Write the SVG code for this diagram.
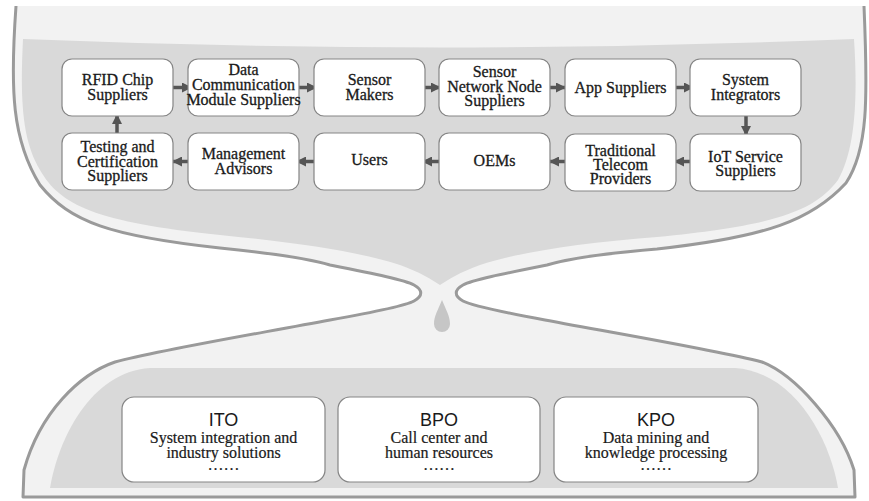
<svg xmlns="http://www.w3.org/2000/svg" width="869" height="501" viewBox="0 0 869 501">
  <style>
    .shell { fill: #f2f2f2; stroke: #9a9a9a; stroke-width: 3; stroke-linejoin: round; }
    .pool { fill: #d9d9d9; }
    .drop { fill: #c6c6c6; }
    .box { fill: #ffffff; stroke: #858585; stroke-width: 1.2; }
    .lbl { font-family: "Liberation Serif", "Times New Roman", serif; font-size: 16px; fill: #1a1a1a; stroke: #1a1a1a; stroke-width: 0.3; text-anchor: middle; }
    .sub { font-family: "Liberation Serif", "Times New Roman", serif; font-size: 16px; fill: #1a1a1a; stroke: #1a1a1a; stroke-width: 0.2; text-anchor: middle; }
    .head { font-family: "Liberation Sans", Arial, sans-serif; font-size: 18px; fill: #1a1a1a; text-anchor: middle; }
    .arrow { stroke: #555555; stroke-width: 3.5; fill: none; marker-end: url(#tip); }
  </style>
  <defs>
    <marker id="tip" viewBox="0 0 10 10" refX="10" refY="5" markerUnits="userSpaceOnUse" markerWidth="11" markerHeight="10" orient="auto">
      <path d="M0,0 L10,5 L0,10 Z" fill="#555555"/>
    </marker>
  </defs>

  <!-- hourglass body: open at the top, so the stroke skips the closing edge -->
  <path class="shell" d="M16,6
    C10,90 12,140 40,185
    C70,222 110,236 220,248
    C280,254 310,259 330,265
    C375,274 405,280 414,285
    C423,290 423,296 414,301
    C405,306 375,312 330,320
    C250,335 160,350 115,362
    C80,374 40,412 24,470
    L23,497 L855,497 L854,470
    C840,425 795,375 762,362
    C715,350 625,335 545,320
    C502,312 472,306 463,301
    C454,296 454,290 463,285
    C472,280 502,274 547,265
    C567,259 597,254 657,249
    C767,237 812,220 846,183
    C868,150 868,100 864,6"/>

  <!-- upper chamber contents -->
  <path class="pool" d="M23,39
    C20,100 22,140 40,170
    C60,205 95,222 220,235
    C300,243 360,252 400,265
    C420,272 432,280 440,285
    C448,280 460,272 480,265
    C520,252 580,243 657,237
    C780,225 815,210 838,180
    C855,150 858,100 854,39
    Q440,56 23,39 Z"/>

  <!-- falling drop -->
  <path class="drop" d="M442,300 C446,310 450,316 450,324 A8,8 0 0 1 434,324 C434,316 438,310 442,300 Z"/>

  <!-- lower chamber contents -->
  <path class="pool" d="M50,488 C58,440 90,372 150,368 L735,368 C795,372 830,440 838,488 Z"/>

  <!-- connectors -->
  <g id="connectors">
    <line class="arrow" x1="173" y1="87.5" x2="192" y2="87.5"/>
    <line class="arrow" x1="295" y1="87.5" x2="317" y2="87.5"/>
    <line class="arrow" x1="424" y1="87.5" x2="441" y2="87.5"/>
    <line class="arrow" x1="543" y1="87.5" x2="566" y2="87.5"/>
    <line class="arrow" x1="672" y1="87.5" x2="694" y2="87.5"/>
    <line class="arrow" x1="746" y1="116" x2="746" y2="136"/>
    <line class="arrow" x1="698" y1="161.5" x2="674" y2="161.5"/>
    <line class="arrow" x1="571" y1="161.5" x2="549" y2="161.5"/>
    <line class="arrow" x1="442" y1="161.5" x2="422" y2="161.5"/>
    <line class="arrow" x1="318" y1="161.5" x2="296" y2="161.5"/>
    <line class="arrow" x1="195" y1="161.5" x2="172" y2="161.5"/>
    <line class="arrow" x1="117" y1="134" x2="117" y2="114"/>
  </g>

  <!-- value chain, top row -->
  <g id="rfid-chip-suppliers">
    <rect class="box" x="62" y="59" width="111" height="57" rx="10"/>
    <text class="lbl" x="117.5" y="85">RFID Chip</text>
    <text class="lbl" x="117.5" y="100">Suppliers</text>
  </g>
  <g id="data-communication-module-suppliers">
    <rect class="box" x="188" y="59" width="111" height="57" rx="10"/>
    <text class="lbl" x="243.5" y="75">Data</text>
    <text class="lbl" x="243.5" y="90">Communication</text>
    <text class="lbl" x="243.5" y="105">Module Suppliers</text>
  </g>
  <g id="sensor-makers">
    <rect class="box" x="314" y="59" width="111" height="57" rx="10"/>
    <text class="lbl" x="369.5" y="85">Sensor</text>
    <text class="lbl" x="369.5" y="100">Makers</text>
  </g>
  <g id="sensor-network-node-suppliers">
    <rect class="box" x="439" y="59" width="111" height="57" rx="10"/>
    <text class="lbl" x="494.5" y="76.5">Sensor</text>
    <text class="lbl" x="494.5" y="91.5">Network Node</text>
    <text class="lbl" x="494.5" y="106">Suppliers</text>
  </g>
  <g id="app-suppliers">
    <rect class="box" x="565" y="59" width="111" height="57" rx="10"/>
    <text class="lbl" x="620.5" y="93">App Suppliers</text>
  </g>
  <g id="system-integrators">
    <rect class="box" x="690" y="59" width="111" height="57" rx="10"/>
    <text class="lbl" x="745.5" y="84.5">System</text>
    <text class="lbl" x="745.5" y="99.5">Integrators</text>
  </g>

  <!-- value chain, bottom row -->
  <g id="testing-certification-suppliers">
    <rect class="box" x="62" y="133" width="111" height="57" rx="10"/>
    <text class="lbl" x="117.5" y="152">Testing and</text>
    <text class="lbl" x="117.5" y="166.5">Certification</text>
    <text class="lbl" x="117.5" y="181">Suppliers</text>
  </g>
  <g id="management-advisors">
    <rect class="box" x="188" y="133" width="111" height="57" rx="10"/>
    <text class="lbl" x="243.5" y="158.5">Management</text>
    <text class="lbl" x="243.5" y="173.5">Advisors</text>
  </g>
  <g id="users">
    <rect class="box" x="314" y="133" width="111" height="57" rx="10"/>
    <text class="lbl" x="369.5" y="165">Users</text>
  </g>
  <g id="oems">
    <rect class="box" x="439" y="133" width="111" height="57" rx="10"/>
    <text class="lbl" x="494.5" y="166">OEMs</text>
  </g>
  <g id="traditional-telecom-providers">
    <rect class="box" x="565" y="134" width="111" height="57" rx="10"/>
    <text class="lbl" x="620.5" y="155.5">Traditional</text>
    <text class="lbl" x="620.5" y="169.5">Telecom</text>
    <text class="lbl" x="620.5" y="183.5">Providers</text>
  </g>
  <g id="iot-service-suppliers">
    <rect class="box" x="690" y="134" width="111" height="57" rx="10"/>
    <text class="lbl" x="745.5" y="161.5">IoT Service</text>
    <text class="lbl" x="745.5" y="175.5">Suppliers</text>
  </g>

  <!-- outsourcing services -->
  <g id="ito">
    <rect class="box" x="122" y="397" width="203" height="85" rx="12"/>
    <text class="head" x="223.5" y="426">ITO</text>
    <text class="sub" x="223.5" y="443">System integration and</text>
    <text class="sub" x="223.5" y="458">industry solutions</text>
    <text class="sub" x="223.5" y="470">……</text>
  </g>
  <g id="bpo">
    <rect class="box" x="338" y="397" width="202" height="85" rx="12"/>
    <text class="head" x="439" y="426">BPO</text>
    <text class="sub" x="439" y="443">Call center and</text>
    <text class="sub" x="439" y="458">human resources</text>
    <text class="sub" x="439" y="470">……</text>
  </g>
  <g id="kpo">
    <rect class="box" x="554" y="397" width="204" height="85" rx="12"/>
    <text class="head" x="656" y="426">KPO</text>
    <text class="sub" x="656" y="443">Data mining and</text>
    <text class="sub" x="656" y="458">knowledge processing</text>
    <text class="sub" x="656" y="470">……</text>
  </g>
</svg>
